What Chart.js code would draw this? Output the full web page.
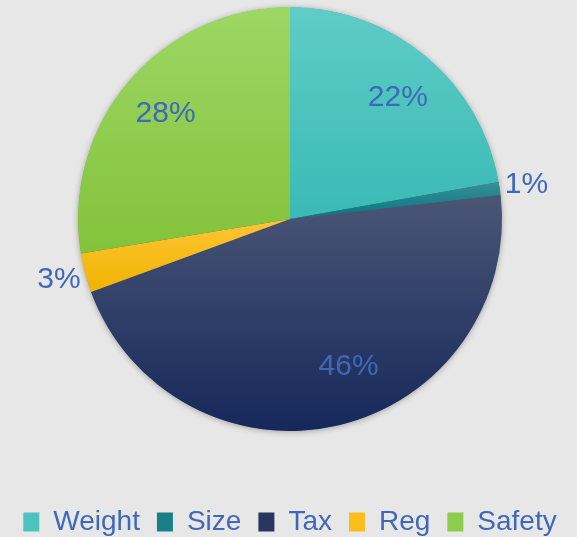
<!DOCTYPE html>
<html>
<head>
<meta charset="utf-8">
<script src="https://cdn.jsdelivr.net/npm/chart.js@4.4.1/dist/chart.umd.min.js"></script>
<style>
    html, body { margin: 0; padding: 0; background: #e7e7e7; }
    canvas { display: block; }
</style>
</head>
<body>
<canvas id="chartPie_share" width="577" height="537"></canvas>
<script>
// data
const categories = ['Weight', 'Size', 'Tax', 'Reg', 'Safety'];
const shares = [22.2, 1.0, 46.2, 3.0, 27.6];

// colours (top -> bottom of each slice)
const colorTop = ['#5fccc7', '#3b8f96', '#4b5676', '#ffc634', '#9dd765'];
const colorBottom = ['#3abab5', '#007780', '#15285a', '#efb300', '#83c23a'];
const colorLegend = ['#4cc3be', '#1a7f87', '#28365f', '#fbbd1a', '#8dcc4c'];
const labelColor = '#4068b8';
const fontFamily = '"Liberation Sans", Arial, sans-serif';

// label tweak (Excel best fit puts the big one off-centre)
const labelNudge = { Tax: [21, -11], Weight: [3, 4] };

var totalShare = 0;
for (let v of shares) totalShare += v;

function sliceGradient(context) {
    const chart = context.chart;
    const area = chart.chartArea;
    const i = context.dataIndex;
    if (!area || i === undefined) return colorBottom[i] || '#888';

    const cx = (area.left + area.right) / 2;
    const cy = (area.top + area.bottom) / 2;
    const r = Math.min(area.width, area.height) / 2;

    let start = 0;
    for (let k = 0; k < i; k++) start += shares[k];
    const a0 = start / totalShare * Math.PI * 2 - Math.PI / 2;
    const a1 = (start + shares[i]) / totalShare * Math.PI * 2 - Math.PI / 2;

    let ymin = cy, ymax = cy;
    for (let s = 0; s <= 60; s++) {
        const y = cy + r * Math.sin(a0 + (a1 - a0) * s / 60);
        ymin = Math.min(ymin, y);
        ymax = Math.max(ymax, y);
    }
    const g = chart.ctx.createLinearGradient(0, ymin, 0, ymax);
    g.addColorStop(0, colorTop[i]);
    g.addColorStop(1, colorBottom[i]);
    return g;
}

// soft shadow under the pie
const pieShadow = {
    id: 'pieShadow',
    beforeDatasetsDraw: function (chart) {
        const arc = chart.getDatasetMeta(0).data[0];
        if (!arc) return;
        const p = arc.getProps(['x', 'y', 'outerRadius'], true);
        const ctx = chart.ctx;
        ctx.save();
        ctx.shadowColor = 'rgba(0,0,0,0.35)';
        ctx.shadowBlur = 6;
        ctx.shadowOffsetY = 1;
        ctx.fillStyle = '#5a6a80';
        ctx.beginPath();
        ctx.arc(p.x, p.y, p.outerRadius - 0.5, 0, Math.PI * 2);
        ctx.fill();
        ctx.restore();
    }
};

// percentage labels
const pctLabels = {
    id: 'pctLabels',
    afterDatasetsDraw: function (chart) {
        const meta = chart.getDatasetMeta(0);
        const ctx = chart.ctx;
        ctx.save();
        ctx.font = '30px ' + fontFamily;
        ctx.fillStyle = labelColor;
        ctx.textAlign = 'center';
        ctx.textBaseline = 'middle';
        meta.data.forEach(function (arc, i) {
            const p = arc.getProps(['x', 'y', 'startAngle', 'endAngle', 'outerRadius'], true);
            const mid = (p.startAngle + p.endAngle) / 2;
            const pct = shares[i] / totalShare * 100;
            const dist = pct < 5 ? p.outerRadius + 27 : p.outerRadius * 0.77;
            const nudge = labelNudge[categories[i]] || [0, 0];
            ctx.fillText(Math.round(pct) + '%',
                p.x + Math.cos(mid) * dist + nudge[0],
                p.y + Math.sin(mid) * dist + nudge[1]);
        });
        ctx.restore();
    }
};

let ctxPie = document.getElementById('chartPie_share').getContext('2d');

let pieChart = new Chart(ctxPie, {
    type: 'pie',
    data: {
        labels: categories,
        datasets: [{
            data: shares,
            backgroundColor: sliceGradient,
            borderWidth: 0,
            hoverOffset: 0
        }]
    },
    plugins: [pieShadow, pctLabels],
    options: {
        responsive: false,
        animation: false,
        layout: {
            padding: { top: 7, left: 3, right: 0, bottom: 0 }
        },
        plugins: {
            tooltip: { enabled: false },
            legend: {
                display: true,
                position: 'bottom',
                maxHeight: 106,
                title: {
                    display: true,
                    text: '',
                    padding: { top: 48, bottom: 0 },
                    font: { size: 10 }
                },
                labels: {
                    boxWidth: 16,
                    boxHeight: 19,
                    padding: 17,
                    color: labelColor,
                    font: { size: 28, family: fontFamily },
                    generateLabels: function (chart) {
                        return categories.map(function (c, i) {
                            return {
                                text: c,
                                fillStyle: colorLegend[i],
                                strokeStyle: colorLegend[i],
                                fontColor: labelColor,
                                lineWidth: 0,
                                hidden: false,
                                index: i
                            };
                        });
                    }
                }
            }
        }
    }
});
</script>
</body>
</html>
